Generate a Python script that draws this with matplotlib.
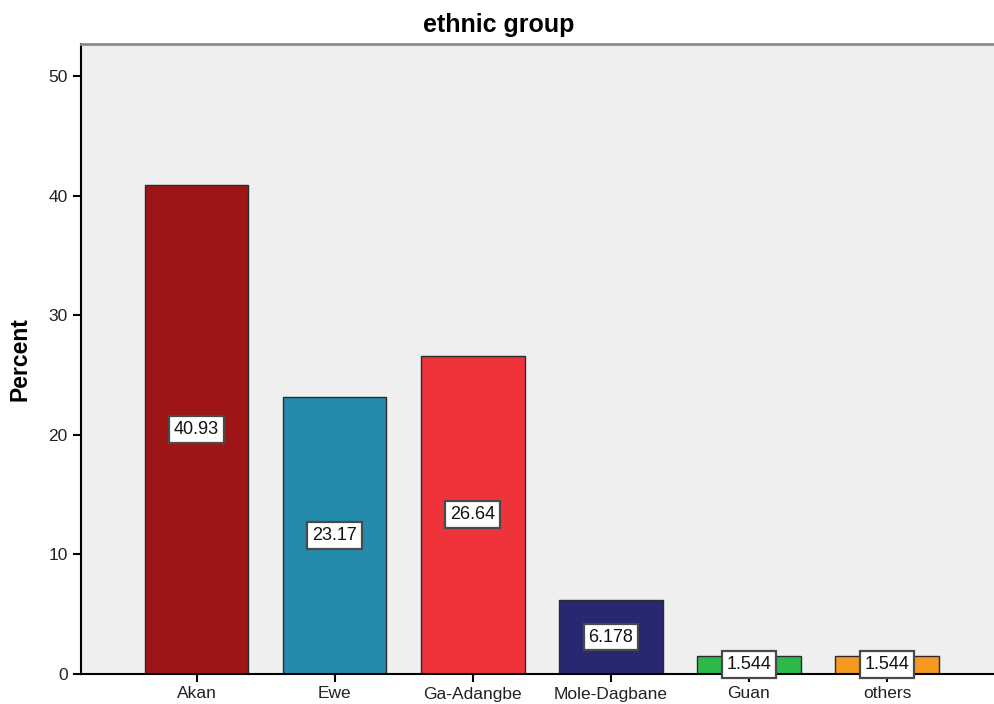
import numpy as np
import matplotlib.pyplot as plt

plt.rcParams['font.family'] = ['Liberation Sans', 'DejaVu Sans']

groups = ['Akan', 'Ewe', 'Ga-Adangbe', 'Mole-Dagbane', 'Guan', 'others']
percent = [40.93, 23.17, 26.64, 6.178, 1.544, 1.544]
labels = ['40.93', '23.17', '26.64', '6.178', '1.544', '1.544']
colors = ['#9E1518', '#248BAC', '#EF333A', '#27286F', '#2DB84B', '#F7991E']

fig = plt.figure(figsize=(9.94, 7.04), dpi=100)
ax = fig.add_axes([81 / 994, 30 / 704, 913 / 994, 630 / 704])
ax.set_facecolor('#EFEFEF')

x = np.arange(len(groups))
ax.bar(x, percent, width=0.75, color=colors, edgecolor='#2b2b2b', linewidth=1, zorder=2)

# value labels sit half way up each bar
for xi, v, lab in zip(x, percent, labels):
    ax.text(xi, v / 2, lab, ha='center', va='center', fontsize=13, color='#111111', zorder=4,
            bbox=dict(boxstyle='square,pad=0.27', facecolor='white', edgecolor='#4a4a4a', linewidth=1.6))

ax.set_xlim(-0.837, 5.775)
ax.set_ylim(0, 52.7)
ax.set_yticks([0, 10, 20, 30, 40, 50])
ax.set_xticks(x)
ax.set_xticklabels(groups)
ax.tick_params(axis='both', direction='out', length=6, width=1.5, labelsize=12.5,
               colors='black', labelcolor='#222222')
ax.tick_params(axis='x', pad=3)

ax.spines['right'].set_visible(False)
ax.spines['top'].set_color('#8a8a8a')
ax.spines['top'].set_linewidth(2)
ax.spines['left'].set_linewidth(1.5)
ax.spines['bottom'].set_linewidth(1.5)

ax.set_ylabel('Percent', fontsize=16.5, fontweight='bold', labelpad=12)
fig.text(499 / 994, 1 - 25 / 704, 'ethnic group', ha='center', va='center',
         fontsize=18, fontweight='bold')

fig.savefig('out.png', dpi=100)
